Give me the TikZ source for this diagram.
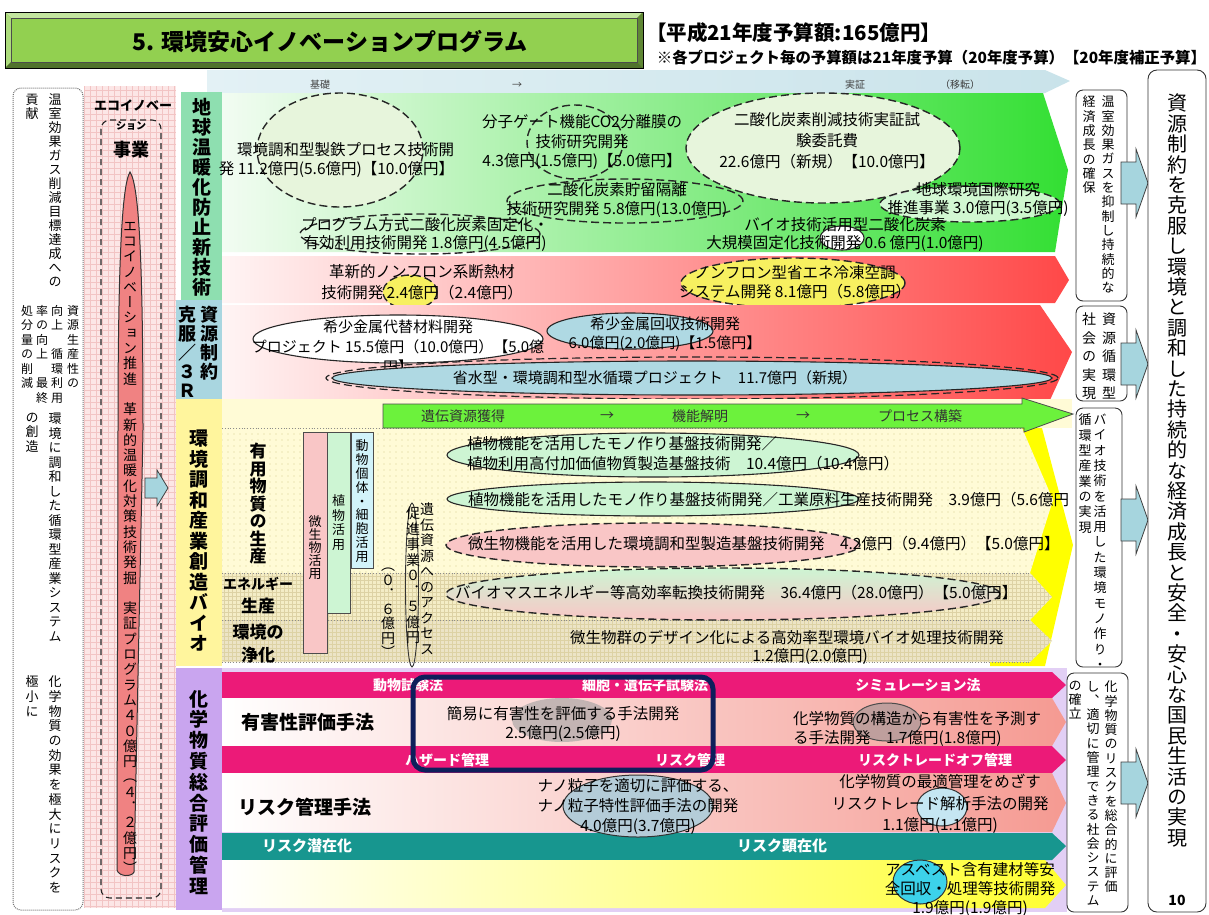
\documentclass[tikz,border=0pt]{standalone}
\usepackage{fontspec}
\setmainfont{Noto Sans CJK JP}
\newfontfamily\vjfont{Noto Sans CJK JP}[RawFeature=+vert]
\usetikzlibrary{patterns,patterns.meta}
\newcommand\setfs[2]{\fontsize{#1}{#2}\selectfont}
\ExplSyntaxOn
\NewDocumentCommand\vt{mm}{
  \vbox{\baselineskip=#1pt \lineskiplimit=-\maxdimen \lineskip=0pt
    \tl_map_inline:nn{#2}{\hbox_to_wd:nn{1em}{\hss ##1\hss}}}
}
\ExplSyntaxOff
\definecolor{titlegreen}{HTML}{92D050}
\definecolor{topblueL}{HTML}{E3F1F5}
\definecolor{topblueR}{HTML}{C9E3EA}
\definecolor{lab1}{HTML}{8EDFB0}
\definecolor{lab2}{HTML}{A9D6E0}
\definecolor{lab3}{HTML}{FFF59D}
\definecolor{lab4}{HTML}{C9A5EF}
\definecolor{greenL}{HTML}{F2FCF2}
\definecolor{greenM}{HTML}{B5EFB5}
\definecolor{greenR}{HTML}{33DF33}
\definecolor{redL}{HTML}{FFF4F4}
\definecolor{redM}{HTML}{F9BDBD}
\definecolor{redR}{HTML}{FF4848}
\definecolor{paleY}{HTML}{FFFBD6}
\definecolor{brightY}{HTML}{FFFF00}
\definecolor{bandG}{HTML}{6CF23C}
\definecolor{magenta1}{HTML}{EC1A78}
\definecolor{teal1}{HTML}{17968F}
\definecolor{lav}{HTML}{E2CFF5}
\definecolor{salmonM}{HTML}{FBD4D0}
\definecolor{salmonR}{HTML}{F59A92}
\definecolor{yelM}{HTML}{FFFCC0}
\definecolor{yelR}{HTML}{FFFF30}
\definecolor{navy1}{HTML}{0E1F5B}
\definecolor{pinkbg}{HTML}{FCE6E6}
\definecolor{pinkgrid}{HTML}{F2C4C4}
\definecolor{spindle}{HTML}{F08282}
\definecolor{arrowblue}{HTML}{A6D5DE}
\definecolor{ellgreen}{HTML}{E7F5DC}
\definecolor{ellyellow}{HTML}{F7F060}
\definecolor{ellblue}{HTML}{AFD9E3}
\definecolor{rowgreen}{HTML}{CDF5D3}
\definecolor{rowpink}{HTML}{F9C6C6}
\definecolor{barblue}{HTML}{D2F3FA}
\definecolor{beige1}{HTML}{F4EDC6}
\definecolor{beige2}{HTML}{ECE4C6}
\definecolor{gridbeige}{HTML}{DDD2A4}
\definecolor{dotbeige}{HTML}{D8CD8E}
\definecolor{nanoblue}{HTML}{B4CCD8}
\definecolor{lightcyan}{HTML}{C5E6F2}
\definecolor{cyan1}{HTML}{3CD2EA}
\definecolor{brgray}{HTML}{A89898}
\tikzset{
  every node/.style={inner sep=0pt, outer sep=0pt},
  tx/.style={font=\setfs{15.5}{19.5}, align=center},
  vbold/.style={font=\vjfont\bfseries\setfs{19}{19}, anchor=north},
  vnorm/.style={font=\vjfont\setfs{13}{13}, anchor=north},
  dashell/.style={draw=black!85, line width=1.4pt, dash pattern=on 8pt off 4pt},
  solell/.style={draw=black!85, line width=1.1pt},
  bandtx/.style={font=\bfseries\setfs{14}{16}, text=white},
  outbox/.style={draw=black!80, line width=0.9pt, rounded corners=7pt, fill=white},
  barrow/.style={fill=arrowblue, draw=black!75, line width=0.8pt},
  barr/.pic={\filldraw[barrow] (0,-21) -- (15,-21) -- (15,-34) -- (27,0) -- (15,34) -- (15,21) -- (0,21) -- cycle;},
  bartx/.style={font=\vjfont\setfs{13}{13}, anchor=north},
  sep/.style={black!45, dotted, line width=0.8pt}
}
\begin{document}
\begin{tikzpicture}[x=1pt,y=-1pt]
\fill[white] (0,0) rectangle (1209,914);
\useasboundingbox (0,0) rectangle (1209,914);

% ---------- title ----------
\fill[titlegreen!70!black] (5,12) rectangle (643,68);
\fill[titlegreen!55!white] (5,12) -- (643,12) -- (637,18) -- (11,18) -- cycle;
\fill[titlegreen!75!white] (5,12) -- (11,18) -- (11,62) -- (5,68) -- cycle;
\fill[titlegreen!55!black] (5,68) -- (643,68) -- (637,62) -- (11,62) -- cycle;
\fill[titlegreen!65!black] (643,12) -- (643,68) -- (637,62) -- (637,18) -- cycle;
\filldraw[fill=titlegreen, draw=black!70, line width=0.6pt] (11,18) rectangle (637,62);
\draw[black, line width=1pt] (5,12) rectangle (643,68);
\node[font=\bfseries\setfs{23}{23}] (ttl) at (330,42) {5. 環境安心イノベーションプログラム};
\node[anchor=west, font=\bfseries\setfs{20.5}{22}] (budget) at (646,33) {【平成21年度予算額:165億円】};
\node[anchor=east, font=\bfseries\setfs{15.4}{18}] (note) at (1206,58) {※各プロジェクト毎の予算額は21年度予算（20年度予算）【20年度補正予算】};

% ---------- top band ----------
\shade[left color=topblueL, right color=topblueR] (207,70) -- (1045,70) -- (1070,81) -- (1045,93) -- (207,93) -- cycle;
\node[font=\setfs{10}{10}, text=black!75] (kiso) at (320,85) {基礎};
\node[font=\setfs{10}{10}, text=black!75] (ar1) at (517,85) {→};
\node[font=\setfs{10}{10}, text=black!75] (jissho) at (855,85) {実証};
\node[font=\setfs{10}{10}, text=black!75] (iten) at (960,85) {（移転）};

% ---------- left column ----------
\draw[black!55, densely dotted, line width=1pt, rounded corners=8pt] (13,88) rectangle (83,910);
\node[vnorm] (lc1) at (55,94) {\vt{14}{温室効果ガス削減目標達成への}};
\node[vnorm] (lc2) at (32,94) {\vt{14}{貢献}};
\node[vnorm, font=\vjfont\setfs{12}{12}] (lc3) at (73,305) {\vt{14.5}{資源生産性の}};
\node[vnorm, font=\vjfont\setfs{12}{12}] (lc4) at (57,305) {\vt{14.5}{向上　循環利用}};
\node[vnorm, font=\vjfont\setfs{12}{12}] (lc5) at (42,305) {\vt{14.5}{率の向上　最終}};
\node[vnorm, font=\vjfont\setfs{12}{12}] (lc6) at (27,305) {\vt{14.5}{処分量の削減}};
\node[vnorm] (lc7) at (55,413) {\vt{14.5}{環境に調和した循環型産業システム}};
\node[vnorm] (lc8) at (32,413) {\vt{14.5}{の創造}};
\node[vnorm] (lc9) at (55,676) {\vt{14.7}{化学物質の効果を極大にリスクを}};
\node[vnorm] (lc10) at (32,676) {\vt{14.7}{極小に}};

% ---------- pink eco column ----------
\fill[pinkbg] (84,86) rectangle (176,908);
\begin{scope}
\clip (84,86) rectangle (176,908);
\draw[pinkgrid, line width=0.4pt] (84,86) grid[step=6pt] (176,908);
\end{scope}
\node[font=\bfseries\setfs{13}{13}] (eco1) at (133,105) {エコイノベー};
\draw[black!85, line width=1.1pt, dash pattern=on 6pt off 4pt, rounded corners=9pt] (101,120) rectangle (161,898);
\node[font=\bfseries\setfs{10}{10}, fill=pinkbg, inner sep=1pt] (eco2) at (131,126) {ション};
\node[font=\bfseries\setfs{18}{18}] (eco3) at (131,150) {事業};
\filldraw[fill=spindle, draw=black!80, line width=1pt] (130,172) .. controls (139,185) and (143,260) .. (143,430) -- (134,872) .. controls (132,877) and (119,877) .. (117,870) -- (118,430) .. controls (118,260) and (122,185) .. (130,172) -- cycle;
\node[vnorm, font=\vjfont\setfs{14}{14}] (spt) at (130,222) {\vt{15.3}{エコイノベーション推進　革新的温暖化対策技術発掘　実証プログラム４０億円（４．２億円）}};
\filldraw[barrow] (145,478) -- (157,478) -- (157,470) -- (168,488) -- (157,506) -- (157,498) -- (145,498) -- cycle;

% ---------- row 1 ----------
\fill[lab1] (181,92) rectangle (222,300);
\node[vbold] (l1) at (202,98) {\vt{20}{地球温暖化防止新技術}};
\shade[left color=greenL, middle color=greenM, right color=greenR] (222,93) -- (1043,93) -- (1068,170) -- (1055,252) -- (222,252) -- cycle;
\shade[left color=redL, middle color=redM, right color=redR] (222,256) -- (1055,256) -- (1069,280) -- (1055,303) -- (222,303) -- cycle;

\draw[dashell, fill=ellgreen] (340,150) ellipse [x radius=83pt, y radius=57pt];
\node[tx, align=right, anchor=east] (t1) at (454,160) {環境調和型製鉄プロセス技術開\\発 11.2億円(5.6億円)【10.0億円】};
\draw[dashell] (575,142) ellipse [x radius=48pt, y radius=37pt];
\node[tx] (t2) at (582,142) {分子ゲート機能CO2分離膜の\\技術研究開発\\4.3億円(1.5億円)【5.0億円】};
\draw[dashell, fill=ellgreen] (823,148) ellipse [x radius=137pt, y radius=55pt];
\node[tx, font=\setfs{15.5}{21}] (t3) at (827,141) {二酸化炭素削減技術実証試\\験委託費\\22.6億円（新規）【10.0億円】};
\draw[dashell] (625,201) ellipse [x radius=118pt, y radius=22pt];
\node[tx] (t4) at (617,200) {二酸化炭素貯留隔離\\技術研究開発 5.8億円(13.0億円)};
\draw[dashell] (420,234) ellipse [x radius=120pt, y radius=20pt];
\node[tx, font=\setfs{15.5}{18}] (t5) at (425,234) {プログラム方式二酸化炭素固定化・\\有効利用技術開発 1.8億円(4.5億円)};
\draw[dashell, fill=white, fill opacity=0.75] (970,204) ellipse [x radius=90pt, y radius=18pt];
\node[tx, font=\setfs{15.5}{18}] (t6) at (978,199) {地球環境国際研究\\推進事業 3.0億円(3.5億円)};
\draw[solell, fill=white] (842,238) ellipse [x radius=22pt, y radius=12pt];
\node[tx, font=\setfs{15.5}{18}] (t7) at (845,234) {バイオ技術活用型二酸化炭素\\大規模固定化技術開発 0.6 億円(1.0億円)};
\draw[dashell, fill=ellyellow] (410,292) ellipse [x radius=27pt, y radius=17pt];
\node[tx, font=\setfs{15.5}{21}] (t8) at (422,282) {革新的ノンフロン系断熱材\\技術開発 2.4億円（2.4億円）};
\draw[dashell, fill=ellyellow] (793,283) ellipse [x radius=112pt, y radius=25pt];
\node[tx] (t9) at (795,282) {ノンフロン型省エネ冷凍空調\\システム開発 8.1億円（5.8億円）};

% ---------- row 2 ----------
\fill[lab2] (176,300) rectangle (222,399);
\node[vbold, font=\vjfont\bfseries\setfs{18}{18}] (l2a) at (209,306) {\vt{19}{資源制約}};
\node[vbold, font=\vjfont\bfseries\setfs{18}{18}] (l2b) at (187,306) {\vt{19}{克服／３Ｒ}};
\shade[left color=redL, middle color=redM, right color=redR] (222,305) -- (1040,305) -- (1072,352) -- (1050,400) -- (222,400) -- cycle;
\draw[solell, fill=white] (398,339) ellipse [x radius=145pt, y radius=24pt];
\draw[solell, fill=ellblue] (630,331) ellipse [x radius=83pt, y radius=18pt];
\node[tx, font=\setfs{15}{20}] (t10) at (398,347) {希少金属代替材料開発\\プロジェクト 15.5億円（10.0億円）【5.0億\\円】};
\node[tx, font=\setfs{15}{18.5}] (t11) at (665,334) {希少金属回収技術開発\\6.0億円(2.0億円)【1.5億円】};
\draw[dashell, line width=1.2pt] (692,378) ellipse [x radius=366pt, y radius=21pt];
\draw[solell, fill=ellblue] (692,378) ellipse [x radius=360pt, y radius=17pt];
\node[tx, font=\setfs{15}{18}] (t12) at (655,378) {省水型・環境調和型水循環プロジェクト　11.7億円（新規）};

% ---------- row 3 ----------
\fill[lab3] (176,399) rectangle (222,666);
\node[vbold] (l3) at (199,430) {\vt{20.5}{環境調和産業創造バイオ}};
\fill[paleY] (222,399) -- (1072,399) -- (1072,428) -- (222,428) -- cycle;
\fill[brightY] (990,428) -- (1042,428) -- (1073,545) -- (1045,666) -- (990,666) -- cycle;
\fill[paleY] (222,428) -- (1022,428) -- (1053,500) -- (1030,573) -- (222,573) -- cycle;
\fill[pattern={Dots[distance=6pt, radius=0.7pt]}, pattern color=dotbeige] (222,428) -- (1022,428) -- (1053,500) -- (1030,573) -- (222,573) -- cycle;
\fill[beige1] (222,573) -- (1030,573) -- (1052,597) -- (1030,620) -- (222,620) -- cycle;
\fill[beige2] (222,620) -- (1030,620) -- (1052,641) -- (1030,662) -- (222,662) -- cycle;
\begin{scope}
\clip (222,573) -- (1030,573) -- (1052,597) -- (1030,620) -- (1052,641) -- (1030,662) -- (222,662) -- cycle;
\draw[gridbeige, line width=0.35pt] (222,572) grid[step=4pt] (1056,664);
\end{scope}
\draw[sep] (222,428) -- (1022,428);
\draw[sep] (222,573) -- (1030,573);
\draw[sep] (222,620) -- (1030,620);
\draw[sep] (222,662) -- (1030,662);
\filldraw[fill=bandG, draw=black!70, line width=0.8pt] (383,404) -- (1022,404) -- (1022,398) -- (1073,414) -- (1024,432) -- (1024,428) -- (383,428) -- cycle;
\node[font=\setfs{14}{14}, text=black!80] (gb1) at (463,416) {遺伝資源獲得};
\node[font=\setfs{14}{14}, text=black!80] (gb2) at (607,416) {→};
\node[font=\setfs{14}{14}, text=black!80] (gb3) at (700,416) {機能解明};
\node[font=\setfs{14}{14}, text=black!80] (gb4) at (803,416) {→};
\node[font=\setfs{14}{14}, text=black!80] (gb5) at (920,416) {プロセス構築};

\node[vbold, font=\vjfont\bfseries\setfs{17}{17}] (u1) at (258,443) {\vt{17.5}{有用物質の生産}};
\node[font=\bfseries\setfs{14}{14}] (u2) at (258,584) {エネルギー};
\node[font=\bfseries\setfs{17}{17}] (u3) at (258,606) {生産};
\node[font=\bfseries\setfs{17}{17}] (u4) at (258,632) {環境の};
\node[font=\bfseries\setfs{17}{17}] (u5) at (258,655) {浄化};

\filldraw[fill=rowpink, draw=black!70, line width=0.7pt] (303,432) rectangle (327,653);
\filldraw[fill=rowgreen, draw=black!70, line width=0.7pt] (327,432) rectangle (350,613);
\filldraw[fill=barblue, draw=black!70, line width=0.7pt] (351,432) rectangle (373,568);
\node[bartx] (b1) at (315,516) {\vt{13}{微生物活用}};
\node[bartx] (b2) at (338.5,495) {\vt{14.5}{植物活用}};
\node[bartx] (b3) at (362,440) {\vt{13.8}{動物個体・細胞活用}};
\node[bartx, font=\vjfont\setfs{14}{14}] (g1) at (427,503) {\vt{15.5}{遺伝資源へのアクセス}};
\draw[black!80, line width=0.9pt] (412,585) ellipse [x radius=6.5pt, y radius=82pt];
\node[bartx, font=\vjfont\setfs{14}{14}] (g2) at (413,507) {\vt{15.5}{促進事業０．５億円}};
\node[bartx, font=\vjfont\setfs{14}{14}] (g3) at (388,568) {\vt{14.5}{（０．６億円）}};

\draw[solell, fill=rowgreen] (653,455) ellipse [x radius=206pt, y radius=22pt];
\node[tx, align=left, anchor=west, font=\setfs{15.5}{20}] (r3t1) at (467,454) {植物機能を活用したモノ作り基盤技術開発／\\植物利用高付加価値物質製造基盤技術　10.4億円（10.4億円）};
\draw[solell, fill=rowgreen] (653,499) ellipse [x radius=206pt, y radius=17pt];
\node[tx, anchor=west] (r3t2) at (468,500) {植物機能を活用したモノ作り基盤技術開発／工業原料生産技術開発　3.9億円（5.6億円};
\draw[dashell, fill=rowpink] (653,545) ellipse [x radius=207pt, y radius=22pt];
\node[tx, anchor=west] (r3t3) at (468,544) {微生物機能を活用した環境調和型製造基盤技術開発　4.2億円（9.4億円）【5.0億円】};
\draw[dashell, top color=rowgreen, bottom color=rowpink] (723,594) ellipse [x radius=277pt, y radius=26pt];
\node[tx, anchor=west] (r3t4) at (455,593) {バイオマスエネルギー等高効率転換技術開発　36.4億円（28.0億円）【5.0億円】};
\node[tx] (r3t5) at (787,638) {微生物群のデザイン化による高効率型環境バイオ処理技術開発};
\node[tx] (r3t6) at (810,657) {1.2億円(2.0億円)};

% ---------- row 4 ----------
\fill[lab4] (176,668) rectangle (222,910);
\node[vbold] (l4) at (199,690) {\vt{20.8}{化学物質総合評価管理}};
\fill[lav] (222,668) rectangle (1067,912);
\fill[magenta1] (222,672) -- (1052,672) -- (1066,685) -- (1052,698) -- (222,698) -- cycle;
\shade[left color=white, middle color=salmonM, right color=salmonR] (222,698) -- (1052,698) -- (1066,722) -- (1052,746) -- (222,746) -- cycle;
\fill[magenta1] (222,746) -- (1052,746) -- (1066,760) -- (1052,773) -- (222,773) -- cycle;
\shade[left color=white, middle color=salmonM, right color=salmonR] (222,773) -- (1052,773) -- (1066,803) -- (1052,832) -- (222,832) -- cycle;
\fill[teal1] (222,833) -- (1052,833) -- (1066,846) -- (1052,860) -- (222,860) -- cycle;
\shade[left color=white, middle color=yelM, right color=yelR] (222,860) -- (1045,860) -- (1066,885) -- (1045,908) -- (222,908) -- cycle;

\node[bandtx] (m1) at (408,685) {動物試験法};
\node[bandtx] (m2) at (645,685) {細胞・遺伝子試験法};
\node[bandtx] (m3) at (918,685) {シミュレーション法};
\node[font=\bfseries\setfs{19}{19}] (h1) at (308,722) {有害性評価手法};
\fill[gray!75, opacity=0.6] (562,720) ellipse [x radius=50pt, y radius=22pt];
\node[tx, font=\setfs{15.5}{18.5}] (h2) at (563,724) {簡易に有害性を評価する手法開発\\2.5億円(2.5億円)};
\filldraw[fill=brgray, fill opacity=0.7, draw=black!70, line width=1pt] (887,722) ellipse [x radius=34pt, y radius=19pt];
\node[tx, align=left, anchor=west, font=\setfs{15.5}{19}] (h3) at (793,729) {化学物質の構造から有害性を予測す\\る手法開発　1.7億円(1.8億円)};
\node[bandtx] (m4) at (447,760) {ハザード管理};
\node[bandtx] (m5) at (690,760) {リスク管理};
\node[bandtx] (m6) at (935,760) {リスクトレードオフ管理};
\node[font=\bfseries\setfs{19}{19}] (h4) at (305,807) {リスク管理手法};
\filldraw[fill=nanoblue, draw=black!80, line width=1pt] (638,806) ellipse [x radius=75pt, y radius=31pt];
\node[tx, font=\setfs{15.5}{20}] (h5) at (638,806) {ナノ粒子を適切に評価する、\\ナノ粒子特性評価手法の開発\\4.0億円(3.7億円)};
\filldraw[fill=lightcyan, draw=black!80, line width=1pt] (942,807) ellipse [x radius=25pt, y radius=19pt];
\node[tx, font=\setfs{15.5}{21.5}] (h6) at (940,804) {化学物質の最適管理をめざす\\リスクトレード解析手法の開発\\1.1億円(1.1億円)};
\node[bandtx, font=\bfseries\setfs{15}{15}] (m7) at (307,846) {リスク潜在化};
\node[bandtx, font=\bfseries\setfs{15}{15}] (m8) at (782,846) {リスク顕在化};
\filldraw[fill=cyan1, draw=black!80, line width=1pt] (920,882) ellipse [x radius=27pt, y radius=22pt];
\node[tx, font=\setfs{15.5}{19}] (h7) at (970,889) {アスベスト含有建材等安\\全回収・処理等技術開発\\1.9億円(1.9億円)};

\draw[navy1, line width=5pt, rounded corners=12pt] (413,677) rectangle (713,770);

% ---------- outcome boxes ----------
\draw[outbox] (1076,90) rectangle (1127,301);
\node[vnorm] (o1a) at (1108,96) {\vt{14.3}{温室効果ガスを抑制し持続的な}};
\node[vnorm] (o1b) at (1089,96) {\vt{14.3}{経済成長の確保}};
\draw[outbox] (1076,306) rectangle (1127,401);
\node[vnorm, font=\vjfont\setfs{14}{14}] (o2a) at (1109,313) {\vt{18.5}{資源循環型}};
\node[vnorm, font=\vjfont\setfs{14}{14}] (o2b) at (1089,313) {\vt{18.5}{社会の実現}};
\draw[outbox] (1076,408) rectangle (1122,667);
\node[vnorm] (o3a) at (1100,414) {\vt{15.3}{バイオ技術を活用した環境モノ作り・}};
\node[vnorm] (o3b) at (1085,414) {\vt{15.3}{循環型産業の実現}};
\draw[outbox] (1067,673) rectangle (1128,912);
\node[vnorm] (o4a) at (1111,681) {\vt{14.3}{化学物質のリスクを総合的に評価}};
\node[vnorm] (o4b) at (1093,681) {\vt{14.3}{し、適切に管理できる社会システム}};
\node[vnorm] (o4c) at (1075,681) {\vt{14.3}{の確立}};
\pic at (1121,183) {barr};
\pic at (1121,364) {barr};
\pic at (1121,520) {barr};
\pic at (1121,783) {barr};

% ---------- final box ----------
\draw[outbox, rounded corners=9pt] (1148,70) rectangle (1206,912);
\node[vnorm, font=\vjfont\setfs{20}{20}] (fin) at (1177,94) {\vt{20.4}{資源制約を克服し環境と調和した持続的な経済成長と安全・安心な国民生活の実現}};
\node[font=\bfseries\setfs{14}{14}] (pg) at (1177,900) {10};
\end{tikzpicture}
\end{document}
